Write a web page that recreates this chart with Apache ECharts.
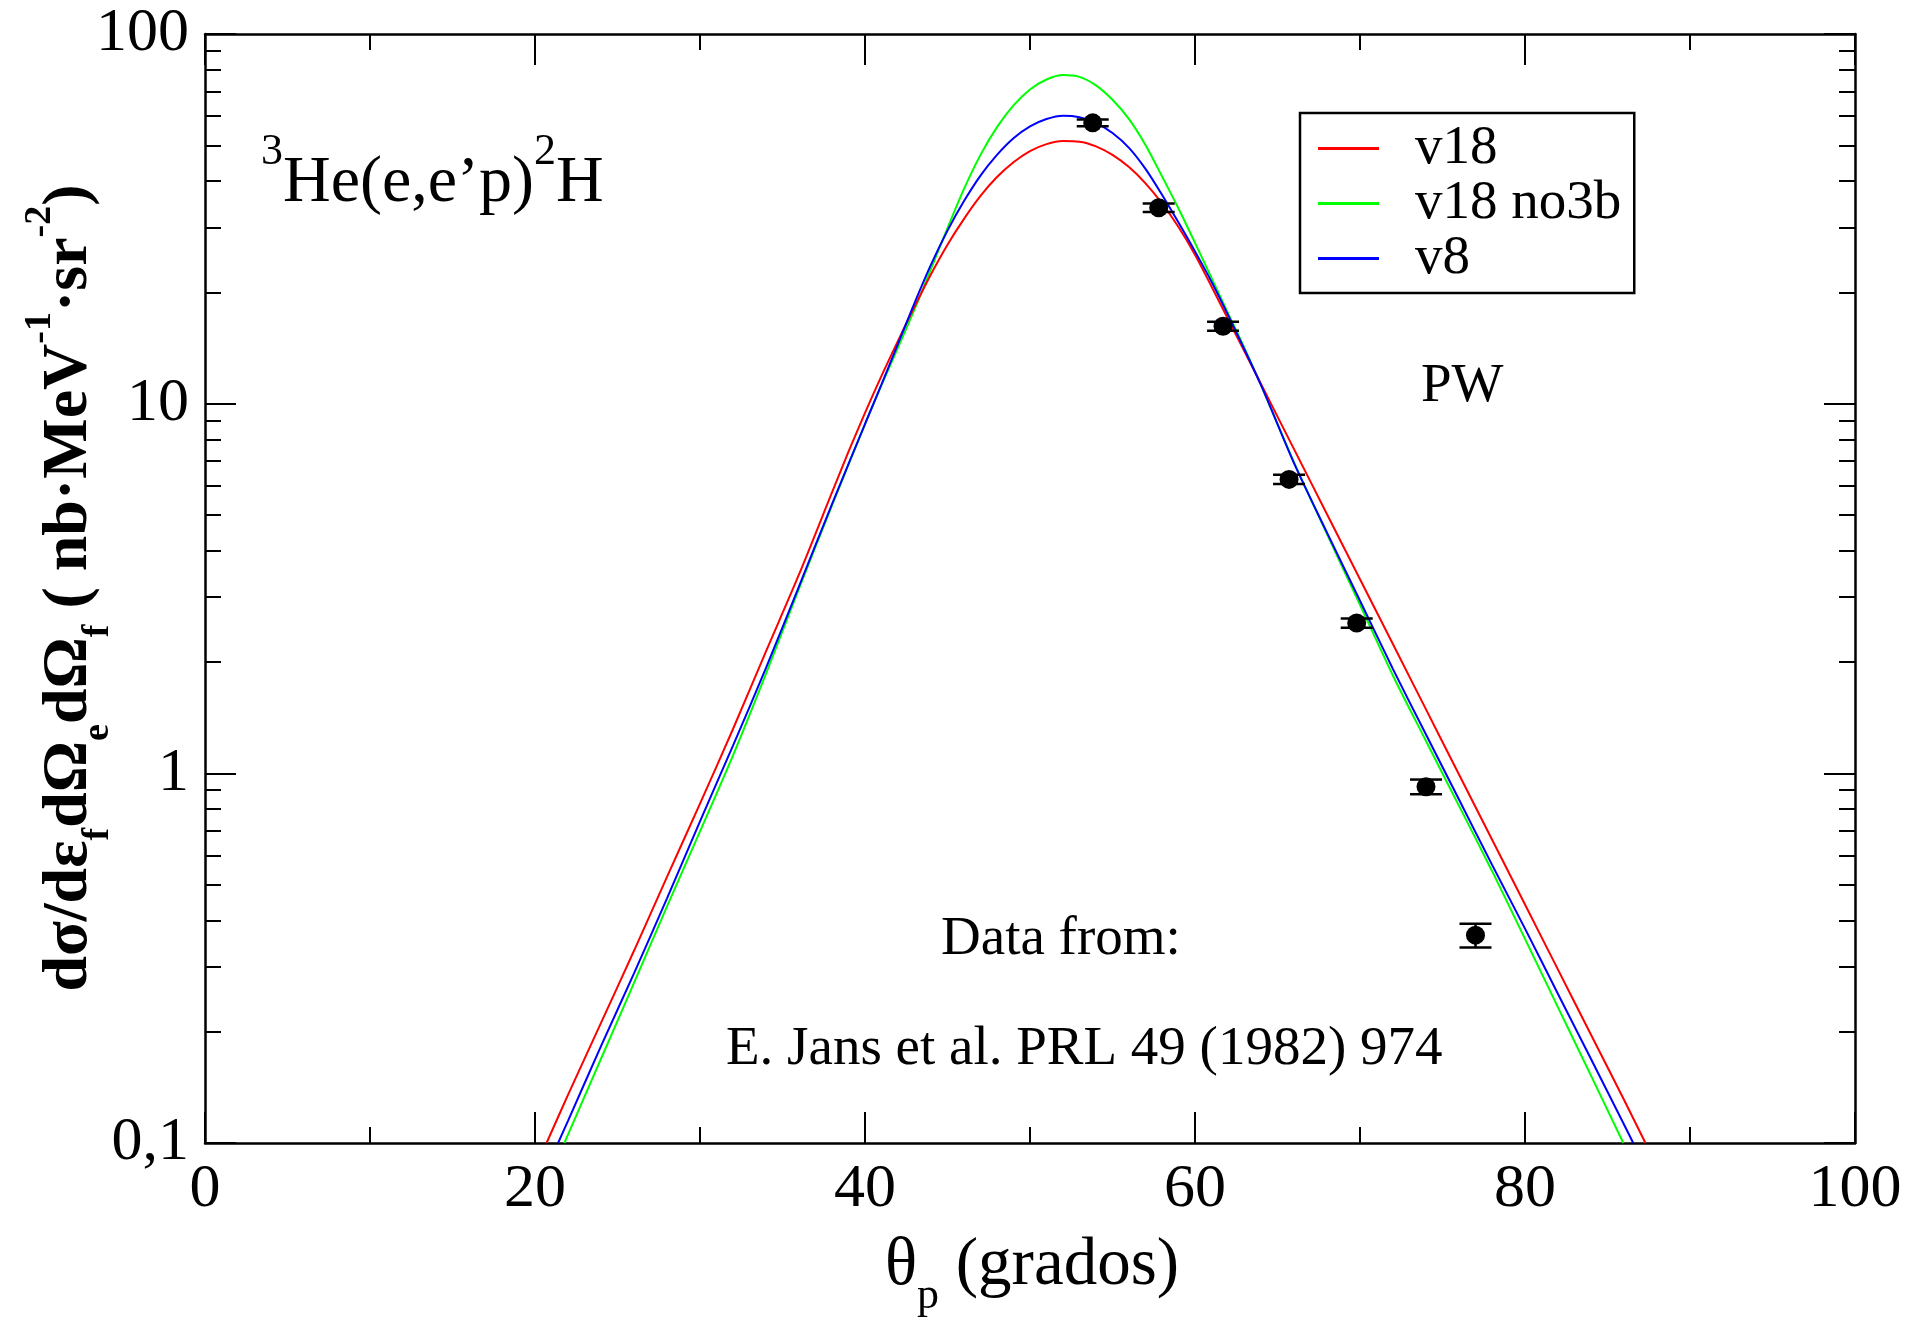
<!DOCTYPE html>
<html><head><meta charset="utf-8">
<script src="https://cdn.jsdelivr.net/npm/echarts@6/dist/echarts.min.js"></script>
<style>html,body{margin:0;padding:0;background:#fff}#c{width:1910px;height:1327px}</style>
</head><body><div id="c"></div>
<script>
// ---- axis ticks ----
const xTicks = [0, 20, 40, 60, 80, 100];
const yTicks = [0.1, 1, 10, 100];
const yMinorTicks = [0.2,0.3,0.4,0.5,0.6,0.7,0.8,0.9,2,3,4,5,6,7,8,9,20,30,40,50,60,70,80,90];

// ---- v18 (red) ----
const thetaV18 = [20.7,22,24,26,28,30,32,34,36,38,39,40,41,42,43,44,45,46,47,48,49,50,51,52,53,54,55,56,57,58,59,60,61,62,64,66,68,70,72,74,76,78,80,82,84,86,87.3];
const v18 = [0.100,0.1349,0.2113,0.3311,0.5248,0.8279,1.318,2.138,3.451,5.754,7.413,9.441,11.89,14.79,18.28,22.39,26.92,31.62,36.48,41.02,44.98,48.19,50.35,51.33,51.14,49.66,47.10,43.65,39.45,34.83,30.06,25.29,20.75,16.94,11.30,7.534,5.023,3.350,2.234,1.489,0.9931,0.6622,0.4416,0.2944,0.1963,0.1309,0.100];

// ---- v18 no3b (green) ----
const thetaNo3b = [21.78,22,24,26,28,30,32,34,36,38,40,41,42,43,44,45,46,47,48,49,50,51,52,53,54,55,56,57,58,59,60,61,62,63,64,66,68,70,72,74,76,78,80,82,84,85.96];
const no3b = [0.100,0.1054,0.1690,0.2710,0.4365,0.6966,1.119,1.862,3.162,5.309,8.810,11.22,14.19,17.99,23.17,29.85,38.11,47.10,55.98,64.12,70.79,75.34,77.45,76.56,72.61,66.37,58.88,50.12,41.21,33.73,27.23,21.88,17.58,14.13,11.22,6.934,4.436,2.858,1.837,1.223,0.8166,0.5445,0.3565,0.2328,0.1521,0.100];

// ---- v8 (blue) ----
const thetaV8 = [21.4,22,24,26,28,30,32,34,36,38,40,41,42,43,44,45,46,47,48,49,50,51,52,53,54,55,56,57,58,59,60,61,62,64,66,68,70,72,74,76,78,80,82,84,86,86.56];
const v8 = [0.100,0.1148,0.1828,0.2877,0.4592,0.7413,1.189,1.928,3.206,5.346,8.810,11.27,14.52,18.71,23.77,29.38,35.32,41.40,47.10,52.24,56.23,58.88,60.12,59.57,57.54,53.95,49.20,43.15,36.73,30.90,25.82,21.38,17.38,11.22,6.902,4.477,2.931,1.914,1.274,0.8492,0.5662,0.3802,0.2529,0.1687,0.1122,0.100];

// ---- experimental data (E. Jans et al.) ----
const dataTheta = [53.8, 57.8, 61.7, 65.7, 69.8, 74.0, 77.0];
const dataValue = [57.5, 33.9, 16.2, 6.24, 2.55, 0.92, 0.365];
const dataError = [1.2, 0.9, 0.45, 0.18, 0.075, 0.042, 0.027];

const FONT = '"Liberation Serif","Times New Roman",serif';
const zip = (a, b) => a.map((x, i) => [x, b[i]]);

const chart = echarts.init(document.getElementById('c'), null, {renderer: 'canvas'});

const baseX = {
  type: 'value', min: 0, max: 100, interval: 20,
  axisLine: {lineStyle: {color: '#000', width: 2.5}},
  axisTick: {inside: true, length: 31, lineStyle: {color: '#000', width: 2}},
  minorTick: {show: true, splitNumber: 2, length: 16, lineStyle: {color: '#000', width: 2}},
  splitLine: {show: false}, minorSplitLine: {show: false}
};
const baseY = {
  type: 'log', logBase: 10, min: 0.1, max: 100,
  axisLine: {lineStyle: {color: '#000', width: 2.5}},
  axisTick: {inside: true, length: 31, lineStyle: {color: '#000', width: 2}},
  splitLine: {show: false}
};
const minorY = {
  type: 'log', logBase: 10, min: 0.1, max: 100,
  axisLine: {show: false},
  axisTick: {inside: true, length: 16, customValues: yMinorTicks, lineStyle: {color: '#000', width: 2}},
  axisLabel: {show: false},
  splitLine: {show: false}
};

const option = {
  animation: false,
  backgroundColor: '#fff',
  grid: {left: 205, top: 34, width: 1650, height: 1109, outerBoundsMode: 'none'},
  xAxis: [
    Object.assign({}, baseX, {position: 'bottom',
      axisLabel: {color: '#000', fontFamily: FONT, fontSize: 62, margin: 16,
        customValues: xTicks, formatter: v => String(v)}}),
    Object.assign({}, baseX, {position: 'top', axisLabel: {show: false}})
  ],
  yAxis: [
    Object.assign({}, baseY, {position: 'left',
      axisLabel: {color: '#000', fontFamily: FONT, fontSize: 62, margin: 16,
        customValues: yTicks,
        formatter: v => (v < 0.5 ? '0,1' : String(Math.round(v)))}}),
    Object.assign({}, minorY, {position: 'left'}),
    Object.assign({}, baseY, {position: 'right', axisLabel: {show: false}}),
    Object.assign({}, minorY, {position: 'right'})
  ],
  legend: {
    left: 1300, top: 113, orient: 'vertical',
    padding: [8, 13, 7, 18],
    borderColor: '#000', borderWidth: 2.5, backgroundColor: '#fff',
    itemWidth: 61, itemHeight: 3, itemGap: 0, icon: 'rect',
    selectedMode: false,
    textStyle: {fontFamily: FONT, fontSize: 55, color: '#000', lineHeight: 54, padding: [0, 0, 0, 31]},
    data: ['v18', 'v18 no3b', 'v8']
  },
  series: [
    {name: 'v18', type: 'line', data: zip(thetaV18, v18), smooth: 0.3, symbol: 'none',
      lineStyle: {color: '#ff0000', width: 2}, itemStyle: {color: '#ff0000'}, z: 3},
    {name: 'v18 no3b', type: 'line', data: zip(thetaNo3b, no3b), smooth: 0.3, symbol: 'none',
      lineStyle: {color: '#00ff00', width: 2}, itemStyle: {color: '#00ff00'}, z: 2},
    {name: 'v8', type: 'line', data: zip(thetaV8, v8), smooth: 0.3, symbol: 'none',
      lineStyle: {color: '#0000ff', width: 2}, itemStyle: {color: '#0000ff'}, z: 4},
    {name: 'err', type: 'custom', z: 5,
      data: dataTheta.map((t, i) => [t, dataValue[i], dataError[i]]),
      renderItem: function (params, api) {
        const x = api.value(0), y = api.value(1), e = api.value(2);
        const lo = api.coord([x, y - e]), hi = api.coord([x, y + e]);
        const hw = 16;
        const st = {stroke: '#000', lineWidth: 2.5};
        return {type: 'group', children: [
          {type: 'line', shape: {x1: lo[0], y1: lo[1], x2: hi[0], y2: hi[1]}, style: st},
          {type: 'line', shape: {x1: lo[0] - hw, y1: lo[1], x2: lo[0] + hw, y2: lo[1]}, style: st},
          {type: 'line', shape: {x1: hi[0] - hw, y1: hi[1], x2: hi[0] + hw, y2: hi[1]}, style: st}
        ]};
      }},
    {name: 'data', type: 'scatter', data: zip(dataTheta, dataValue), symbol: 'circle', symbolSize: 19,
      itemStyle: {color: '#000', opacity: 1}, z: 6}
  ],
  graphic: [
    {type: 'text', x: 261, y: 130, style: {
      text: '{sp|3}{m|He(e,e’p)}{sp|2}{m|H}', fill: '#000', align: 'left', verticalAlign: 'top',
      rich: {
        m: {fontFamily: FONT, fontSize: 66, lineHeight: 107, verticalAlign: 'middle'},
        sp: {fontFamily: FONT, fontSize: 44, verticalAlign: 'top'}
      }}},
    {type: 'text', x: 1421, y: 387, style: {text: 'PW', fill: '#000', fontFamily: FONT, fontSize: 55, align: 'left', verticalAlign: 'middle'}},
    {type: 'text', x: 941, y: 940, style: {text: 'Data from:', fill: '#000', fontFamily: FONT, fontSize: 55, align: 'left', verticalAlign: 'middle'}},
    {type: 'text', x: 726, y: 1050, style: {text: 'E. Jans et al. PRL 49 (1982) 974', fill: '#000', fontFamily: FONT, fontSize: 55, align: 'left', verticalAlign: 'middle'}},
    {type: 'text', x: 1032, y: 1214, style: {
      text: '{m|θ}{sb|p}{m| (grados)}', fill: '#000', align: 'center', verticalAlign: 'top',
      rich: {
        m: {fontFamily: FONT, fontSize: 67, lineHeight: 104, verticalAlign: 'middle'},
        sb: {fontFamily: FONT, fontSize: 44, verticalAlign: 'bottom'}
      }}},
    {type: 'text', x: 21, y: 588, rotation: Math.PI / 2, style: {
      text: '{m|dσ/dε}{sb|f}{m|dΩ}{sb|e}{m|dΩ}{sb|f}{m| ( nb·MeV}{sp|-1}{m|·sr}{sp|-2}{m|)}',
      fill: '#000', align: 'center', verticalAlign: 'top',
      rich: {
        m: {fontFamily: FONT, fontSize: 64, fontWeight: 'bold', lineHeight: 96, verticalAlign: 'middle'},
        sb: {fontFamily: FONT, fontSize: 38, fontWeight: 'bold', verticalAlign: 'bottom'},
        sp: {fontFamily: FONT, fontSize: 38, fontWeight: 'bold', verticalAlign: 'top'}
      }}}
  ]
};
chart.setOption(option);
</script>
</body></html>
